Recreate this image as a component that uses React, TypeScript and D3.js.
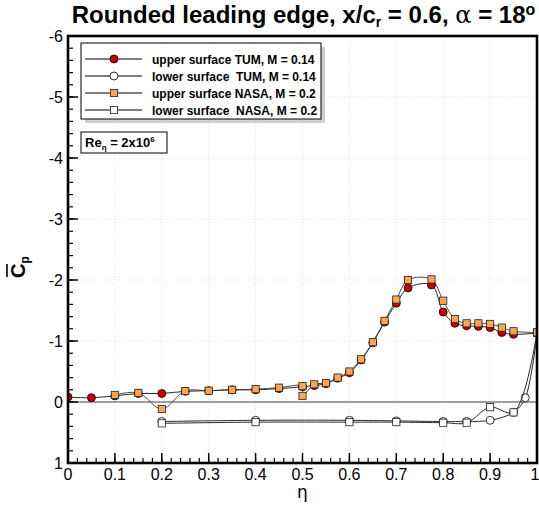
import React from 'react';
import * as d3 from 'd3';

const W = 539;
const H = 506;

// Spanwise pressure distribution, upper/lower surface, TUM and NASA
const ETA_UPPER_TUM = [0, 0.05, 0.1, 0.15, 0.2, 0.25, 0.3, 0.35, 0.4, 0.45, 0.5, 0.525, 0.55, 0.575, 0.6, 0.625, 0.65, 0.675, 0.7, 0.725, 0.775, 0.8, 0.825, 0.85, 0.875, 0.9, 0.925, 0.95, 1.0];
const CP_UPPER_TUM = [-0.08, -0.07, -0.10, -0.14, -0.14, -0.175, -0.185, -0.20, -0.20, -0.22, -0.25, -0.27, -0.30, -0.39, -0.48, -0.69, -0.97, -1.31, -1.62, -1.87, -1.92, -1.475, -1.29, -1.25, -1.24, -1.22, -1.14, -1.11, -1.13];

const ETA_LOWER_TUM = [0.2, 0.4, 0.6, 0.7, 0.8, 0.85, 0.9, 0.95, 0.975, 1.0];
const CP_LOWER_TUM = [0.32, 0.30, 0.30, 0.31, 0.32, 0.32, 0.30, 0.17, -0.07, -1.13];

const ETA_UPPER_NASA = [0.1, 0.15, 0.2, 0.25, 0.3, 0.35, 0.4, 0.45, 0.5, 0.5, 0.525, 0.55, 0.575, 0.6, 0.625, 0.65, 0.675, 0.7, 0.725, 0.775, 0.8, 0.825, 0.85, 0.875, 0.9, 0.925, 0.95, 1.0];
const CP_UPPER_NASA = [-0.115, -0.15, 0.115, -0.18, -0.185, -0.20, -0.21, -0.235, -0.26, -0.10, -0.29, -0.31, -0.40, -0.50, -0.70, -0.98, -1.33, -1.68, -2.00, -2.01, -1.66, -1.36, -1.29, -1.29, -1.28, -1.22, -1.16, -1.14];

const ETA_LOWER_NASA = [0.2, 0.4, 0.6, 0.7, 0.8, 0.85, 0.9, 0.95, 1.0];
const CP_LOWER_NASA = [0.35, 0.33, 0.33, 0.33, 0.34, 0.34, 0.085, 0.17, -1.14];

const X_TICKS = [0, 0.1, 0.2, 0.3, 0.4, 0.5, 0.6, 0.7, 0.8, 0.9, 1];
const X_TICK_LABELS = ['0', '0.1', '0.2', '0.3', '0.4', '0.5', '0.6', '0.7', '0.8', '0.9', '1'];
const Y_TICKS = [-6, -5, -4, -3, -2, -1, 0, 1];
const Y_TICK_LABELS = ['-6', '-5', '-4', '-3', '-2', '-1', '0', '1'];

const LEGEND_LABELS = [
  'upper surface TUM, M = 0.14',
  'lower surface  TUM, M = 0.14',
  'upper surface NASA, M = 0.2',
  'lower surface  NASA, M = 0.2',
];

const FONT = "'Liberation Sans', Arial, Helvetica, sans-serif";
const RED = '#cc0000';
const ORANGE = '#ffa552';

const left = 68;
const right = 537;
const top = 36;
const bottom = 463;

type Marker = 'circle' | 'square';

function MarkerShape({ kind, x, y, fill }: { kind: Marker; x: number; y: number; fill: string }) {
  if (kind === 'circle') {
    return <circle cx={x} cy={y} r={4} fill={fill} stroke="#000" strokeWidth={0.8} />;
  }
  return <rect x={x - 3.6} y={y - 3.6} width={7.2} height={7.2} fill={fill} stroke="#222" strokeWidth={0.8} />;
}

export default function App() {
  const x = d3.scaleLinear().domain([0, 1]).range([left, right]);
  const y = d3.scaleLinear().domain([-6, 1]).range([top, bottom]);

  const line = d3
    .line<[number, number]>()
    .x((d) => x(d[0]))
    .y((d) => y(d[1]))
    .curve(d3.curveCatmullRom.alpha(0.5));

  const zip = (a: number[], b: number[]) => a.map((v, i) => [v, b[i]] as [number, number]);

  const series = [
    { pts: zip(ETA_LOWER_TUM, CP_LOWER_TUM), kind: 'circle' as Marker, fill: '#fff', stroke: '#111' },
    { pts: zip(ETA_LOWER_NASA, CP_LOWER_NASA), kind: 'square' as Marker, fill: '#fff', stroke: '#111' },
    { pts: zip(ETA_UPPER_TUM, CP_UPPER_TUM), kind: 'circle' as Marker, fill: RED, stroke: '#111' },
    { pts: zip(ETA_UPPER_NASA, CP_UPPER_NASA), kind: 'square' as Marker, fill: ORANGE, stroke: '#333' },
  ];

  const xMinor = d3.range(0, 1.0001, 0.02);
  const yMinor = d3.range(-6, 1.0001, 0.2);

  const legendRows = [
    { kind: 'circle' as Marker, fill: RED },
    { kind: 'circle' as Marker, fill: '#fff' },
    { kind: 'square' as Marker, fill: ORANGE },
    { kind: 'square' as Marker, fill: '#fff' },
  ];

  return (
    <svg
      width={W}
      height={H}
      style={{ position: 'fixed', left: 0, top: 0, background: '#fff' }}
      fontFamily={FONT}
    >
      <defs>
        <clipPath id="plotClip">
          <rect x={left} y={top} width={right - left} height={bottom - top} />
        </clipPath>
      </defs>
      <rect width={W} height={H} fill="#fff" />

      {/* Title */}
      <text x={(left + right) / 2 + 1} y={23} textAnchor="middle" fontSize={24} fontWeight="bold" fill="#000">
        Rounded leading edge, x/c
        <tspan fontSize={14} dy={4}>r</tspan>
        <tspan dy={-4}> = 0.6, </tspan>
        <tspan fontWeight="normal" fontFamily="'DejaVu Serif', serif">α</tspan>
        <tspan> = 18</tspan>
        <tspan fontSize={16} dy={-8}>o</tspan>
      </text>

      {/* grid */}
      <g stroke="#e4e4e4" strokeWidth={1} strokeDasharray="1,2">
        {X_TICKS.slice(1, -1).map((t) => (
          <line key={'gx' + t} x1={x(t)} x2={x(t)} y1={top} y2={bottom} />
        ))}
        {Y_TICKS.slice(1, -1).map((t) => (
          <line key={'gy' + t} x1={left} x2={right} y1={y(t)} y2={y(t)} />
        ))}
      </g>

      {/* zero line */}
      <line x1={left} x2={right} y1={y(0)} y2={y(0)} stroke="#444" strokeWidth={1.2} />

      {/* data */}
      <g clipPath="url(#plotClip)">
        {series.map((s, i) => (
          <g key={i}>
            <path d={line(s.pts) || ''} fill="none" stroke={s.stroke} strokeWidth={0.9} />
            {s.pts.map((p, j) => (
              <MarkerShape key={j} kind={s.kind} x={x(p[0])} y={y(p[1])} fill={s.fill} />
            ))}
          </g>
        ))}
      </g>

      {/* ticks */}
      <g stroke="#000" strokeWidth={1.2}>
        {xMinor.map((t, i) => (
          <line key={'xm' + i} x1={x(t)} x2={x(t)} y1={bottom} y2={bottom - 5} />
        ))}
        {X_TICKS.map((t) => (
          <line key={'xM' + t} x1={x(t)} x2={x(t)} y1={bottom} y2={bottom - 10} strokeWidth={1.5} />
        ))}
        {yMinor.map((t, i) => (
          <line key={'ym' + i} x1={left} x2={left + 5} y1={y(t)} y2={y(t)} />
        ))}
        {Y_TICKS.map((t) => (
          <line key={'yM' + t} x1={left} x2={left + 10} y1={y(t)} y2={y(t)} strokeWidth={1.5} />
        ))}
      </g>

      {/* frame */}
      <rect x={left} y={top} width={right - left} height={bottom - top} fill="none" stroke="#000" strokeWidth={2.6} />

      {/* tick labels */}
      <g fontSize={16} fill="#000">
        {X_TICKS.map((t, i) => (
          <text key={'xl' + t} x={i === X_TICKS.length - 1 ? x(t) - 2 : x(t)} y={480} textAnchor="middle">
            {X_TICK_LABELS[i]}
          </text>
        ))}
        {Y_TICKS.map((t, i) => (
          <text key={'yl' + t} x={63} y={y(t) + 5.5} textAnchor="end">
            {Y_TICK_LABELS[i]}
          </text>
        ))}
      </g>

      {/* axis titles */}
      <text x={(left + right) / 2} y={498} textAnchor="middle" fontSize={17} fontFamily="'DejaVu Sans', sans-serif">
        η
      </text>
      <g transform="translate(25,262) rotate(-90)">
        <text x={-16} y={0} fontSize={20} fontWeight="bold" fill="#000">
          C<tspan fontSize={12} dy={4}>p</tspan>
        </text>
        <line x1={-15} x2={-2} y1={-18} y2={-18} stroke="#000" strokeWidth={1.6} />
      </g>

      {/* legend */}
      <rect x={85} y={47} width={240} height={76} fill="#cfcfcf" />
      <rect x={81} y={43} width={240} height={76} fill="#fff" stroke="#000" strokeWidth={1} />
      {legendRows.map((r, i) => {
        const ry = 59 + i * 17;
        return (
          <g key={'lg' + i}>
            <line x1={85} x2={142} y1={ry} y2={ry} stroke="#000" strokeWidth={1} />
            <MarkerShape kind={r.kind} x={114} y={ry} fill={r.fill} />
            <text x={152} y={ry + 4.5} fontSize={12} fontWeight="bold" style={{ whiteSpace: 'pre' }}>
              {LEGEND_LABELS[i]}
            </text>
          </g>
        );
      })}

      {/* Reynolds number box */}
      <rect x={81} y={132} width={86} height={21} fill="#fff" stroke="#000" strokeWidth={1} />
      <text x={85} y={147} fontSize={13} fontWeight="bold">
        Re<tspan fontSize={8} dy={3}>η</tspan>
        <tspan dy={-3}> = 2x10</tspan>
        <tspan fontSize={8} dy={-5}>6</tspan>
      </text>
    </svg>
  );
}
